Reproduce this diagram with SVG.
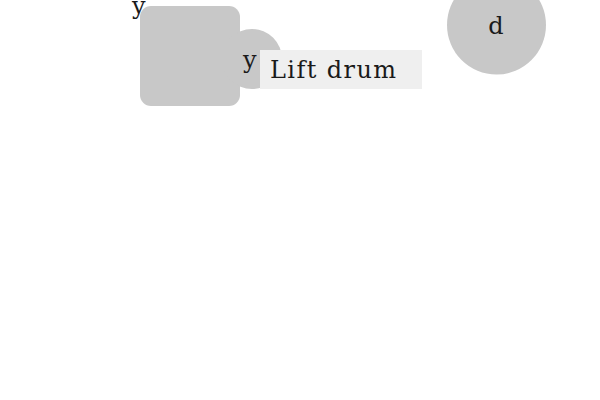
<svg xmlns="http://www.w3.org/2000/svg" width="600" height="400" viewBox="0 0 600 400">
<style>
.shape{fill:#c8c8c8;stroke:none}
.lbl{font-family:"DejaVu Serif","Liberation Serif",serif;font-size:24px;fill:#1a1a1a}
.tag{fill:#efefef;stroke:none}
</style>
<rect width="600" height="400" fill="#ffffff"/>
<g id="connectors"></g>
<g id="node-box">
<rect class="shape" x="140" y="6" width="100" height="100" rx="11" ry="11"/>
<text class="lbl" x="132" y="14">y</text>
</g>
<g id="node-drum">
<circle class="shape" cx="252" cy="59" r="30"/>
<text class="lbl" x="243" y="68">y</text>
</g>
<g id="node-label">
<rect class="tag" x="260" y="50" width="162" height="39"/>
<text class="lbl" x="270" y="78" textLength="126" lengthAdjust="spacing">Lift drum</text>
</g>
<g id="node-d">
<circle class="shape" cx="496.5" cy="25" r="49.5"/>
<text class="lbl" x="496" y="34" text-anchor="middle">d</text>
</g>
</svg>
